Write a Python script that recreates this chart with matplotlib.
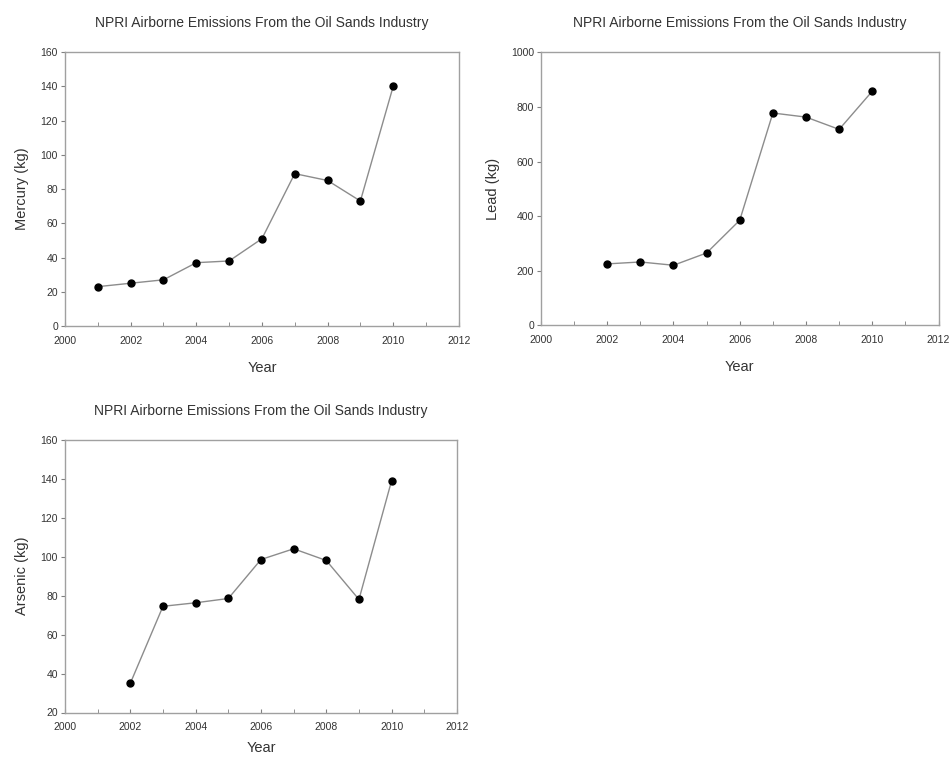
import matplotlib.pyplot as plt
from matplotlib.ticker import MultipleLocator

# data
years_hg = [2001, 2002, 2003, 2004, 2005, 2006, 2007, 2008, 2009, 2010]
mercury = [23, 25, 27, 37, 38, 51, 89, 85, 73, 140]

years_pb = [2002, 2003, 2004, 2005, 2006, 2007, 2008, 2009, 2010]
lead = [225, 232, 220, 265, 385, 778, 763, 718, 858]

years_as = [2002, 2003, 2004, 2005, 2006, 2007, 2008, 2009, 2010]
arsenic = [35, 74.5, 76.3, 78.5, 98.5, 104, 98, 78, 139]

title = 'NPRI Airborne Emissions From the Oil Sands Industry'

plt.rcParams['font.family'] = ['Liberation Sans', 'DejaVu Sans']

fig = plt.figure(figsize=(9.49, 7.6), dpi=100, facecolor='white')


def panel(rect, x, y, ylabel, ylim, ystep, xpad=11):
    ax = fig.add_axes(rect)
    ax.plot(x, y, color='#8c8c8c', linewidth=1.0, marker='o',
            markersize=5, markerfacecolor='black', markeredgecolor='black')
    ax.set_xlim(2000, 2012)
    ax.set_ylim(*ylim)
    ax.xaxis.set_major_locator(MultipleLocator(2))
    ax.xaxis.set_minor_locator(MultipleLocator(1))
    ax.yaxis.set_major_locator(MultipleLocator(ystep))
    for s in ax.spines.values():
        s.set_color('#a0a0a0')
        s.set_linewidth(1.0)
    ax.tick_params(axis='x', which='both', direction='in', length=3,
                   color='#808080', labelsize=7.5, labelcolor='#333333', pad=7)
    ax.tick_params(axis='y', direction='out', length=3, color='#808080',
                   labelsize=7.5, labelcolor='#333333', pad=2)
    ax.set_xlabel('Year', fontsize=10.5, color='#333333', labelpad=xpad)
    ax.set_ylabel(ylabel, fontsize=10.5, color='#333333', labelpad=8)
    ax.set_title(title, fontsize=10, color='#333333', pad=18)
    return ax


panel([0.0685, 0.571, 0.415, 0.3605], years_hg, mercury, 'Mercury (kg)', (0, 160), 20)
panel([0.570, 0.572, 0.419, 0.359], years_pb, lead, 'Lead (kg)', (0, 1000), 200)
panel([0.0685, 0.0625, 0.413, 0.359], years_as, arsenic, 'Arsenic (kg)', (20, 160), 20, xpad=6)

fig.savefig('out.png', dpi=100, facecolor='white')
